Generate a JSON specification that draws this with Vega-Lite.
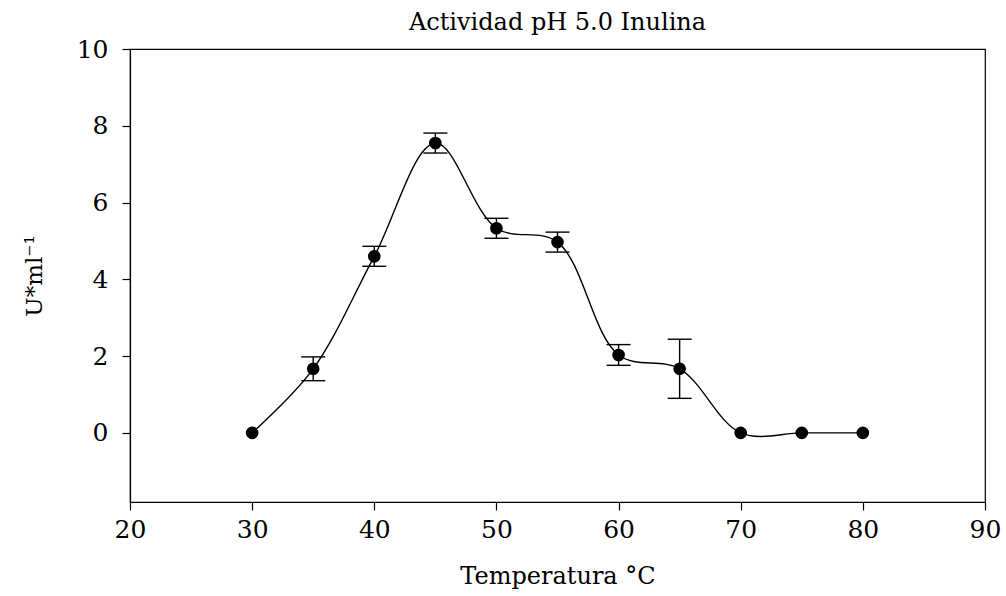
{
  "$schema": "https://vega.github.io/schema/vega-lite/v6.json",
  "width": 855,
  "height": 453,
  "autosize": "none",
  "padding": {"left": 130, "top": 49, "right": 21, "bottom": 94},
  "background": "white",
  "config": {
    "font": "DejaVu Serif",
    "view": {"stroke": "black", "strokeWidth": 1.2}
  },
  "title": {
    "text": "Actividad pH 5.0 Inulina",
    "font": "DejaVu Serif",
    "fontSize": 24,
    "fontWeight": "normal",
    "color": "black",
    "offset": 2,
    "anchor": "middle"
  },
  "data": {
    "values": [
      {"temp": 30, "act": 0, "err": 0},
      {"temp": 35, "act": 1.67, "err": 0.31},
      {"temp": 40, "act": 4.6, "err": 0.26},
      {"temp": 45, "act": 7.55, "err": 0.26},
      {"temp": 50, "act": 5.33, "err": 0.26},
      {"temp": 55, "act": 4.97, "err": 0.26},
      {"temp": 60, "act": 2.03, "err": 0.27},
      {"temp": 65, "act": 1.67, "err": 0.77},
      {"temp": 70, "act": 0, "err": 0},
      {"temp": 75, "act": 0, "err": 0},
      {"temp": 80, "act": 0, "err": 0}
    ]
  },
  "encoding": {
    "x": {
      "field": "temp",
      "type": "quantitative",
      "scale": {"domain": [20, 90], "nice": false, "zero": false},
      "axis": {
        "title": "Temperatura °C",
        "values": [20, 30, 40, 50, 60, 70, 80, 90],
        "grid": false,
        "domainColor": "black",
        "domainWidth": 1.2,
        "tickColor": "black",
        "tickSize": 8,
        "tickWidth": 1.2,
        "labelFont": "DejaVu Serif",
        "labelFontSize": 25,
        "labelColor": "black",
        "labelPadding": 7,
        "labelFlush": false,
        "titleFont": "DejaVu Serif",
        "titleFontSize": 24,
        "titleFontWeight": "normal",
        "titleColor": "black",
        "titlePadding": 22
      }
    }
  },
  "layer": [
    {
      "mark": {"type": "line", "interpolate": "catmull-rom", "color": "black", "strokeWidth": 1.4},
      "encoding": {
        "y": {
          "field": "act",
          "type": "quantitative",
          "scale": {"domain": [-1.8, 10], "nice": false, "zero": false},
          "axis": {
            "title": "U*ml⁻¹",
            "values": [0, 2, 4, 6, 8, 10],
            "grid": false,
            "domainColor": "black",
            "domainWidth": 1.2,
            "tickColor": "black",
            "tickSize": 8,
            "tickWidth": 1.2,
            "labelFont": "DejaVu Serif",
            "labelFontSize": 25,
            "labelColor": "black",
            "labelPadding": 14,
            "labelFlush": false,
            "titleFont": "DejaVu Serif",
            "titleFontSize": 23,
            "titleFontWeight": "normal",
            "titleColor": "black",
            "titlePadding": 30
          }
        }
      }
    },
    {
      "transform": [{"filter": "datum.err > 0"}, {"calculate": "datum.act - datum.err", "as": "lo"}, {"calculate": "datum.act + datum.err", "as": "hi"}],
      "mark": {"type": "rule", "color": "black", "strokeWidth": 1.4},
      "encoding": {
        "y": {"field": "lo", "type": "quantitative"},
        "y2": {"field": "hi"}
      }
    },
    {
      "transform": [{"filter": "datum.err > 0"}, {"calculate": "datum.act + datum.err", "as": "hi"}],
      "mark": {"type": "rule", "color": "black", "strokeWidth": 1.4, "xOffset": -12, "x2Offset": 12},
      "encoding": {
        "x2": {"field": "temp"},
        "y": {"field": "hi", "type": "quantitative"}
      }
    },
    {
      "transform": [{"filter": "datum.err > 0"}, {"calculate": "datum.act - datum.err", "as": "lo"}],
      "mark": {"type": "rule", "color": "black", "strokeWidth": 1.4, "xOffset": -12, "x2Offset": 12},
      "encoding": {
        "x2": {"field": "temp"},
        "y": {"field": "lo", "type": "quantitative"}
      }
    },
    {
      "mark": {"type": "point", "filled": true, "color": "black", "opacity": 1, "size": 160, "shape": "circle"},
      "encoding": {
        "y": {"field": "act", "type": "quantitative"}
      }
    }
  ]
}
